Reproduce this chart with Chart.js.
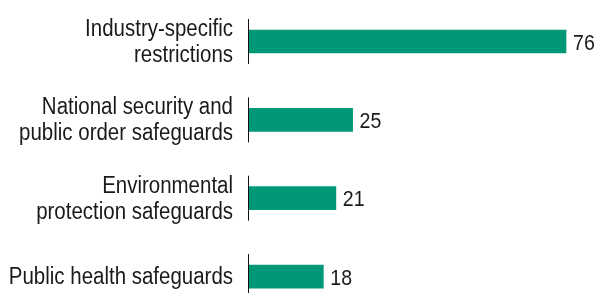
<!DOCTYPE html>
<html>
<head>
<meta charset="utf-8">
<script src="https://cdn.jsdelivr.net/npm/chart.js@4"></script>
<style>
  html, body { margin: 0; padding: 0; background: #fff; overflow: hidden; }
  #box { position: relative; width: 595px; height: 293px; }
</style>
</head>
<body>
<div id="box"><canvas id="chart"></canvas></div>
<script>
const categories = [
    ['Industry-specific', 'restrictions'],
    ['National security and', 'public order safeguards'],
    ['Environmental', 'protection safeguards'],
    ['Public health safeguards']
];
const values = [76, 25, 21, 18];

const FONT = "'Liberation Sans', Arial, sans-serif";
const SQUEEZE = 0.89;   // fake a condensed face
const TEXT = '#1a1a1a';

function narrowText(ctx, str, x, y, align) {
    ctx.save();
    ctx.translate(x, y);
    ctx.scale(SQUEEZE, 1);
    ctx.textAlign = align;
    ctx.fillText(str, 0, 0);
    ctx.restore();
}

// category names, right aligned against the axis
const catLabels = {
    id: 'catLabels',
    afterDraw: function (chart) {
        const { ctx, scales } = chart;
        const right = scales.x.getPixelForValue(0) - 15;
        const lineH = 26;
        ctx.save();
        ctx.font = '23px ' + FONT;
        ctx.fillStyle = TEXT;
        ctx.textBaseline = 'middle';
        categories.forEach(function (lines, i) {
            const mid = scales.y.getPixelForValue(i);
            const top = mid - (lines.length - 1) * lineH / 2;
            lines.forEach(function (line, j) {
                narrowText(ctx, line, right, top + j * lineH + 1, 'right');
            });
        });
        ctx.restore();
    }
};

// short vertical axis piece next to each bar
const axisPieces = {
    id: 'axisPieces',
    afterDatasetsDraw: function (chart) {
        const { ctx, scales } = chart;
        const x = Math.round(scales.x.getPixelForValue(0)) + 0.5;
        ctx.save();
        ctx.strokeStyle = '#111';
        ctx.lineWidth = 1;
        for (let i = 0; i < values.length; i++) {
            const y = scales.y.getPixelForValue(i);
            ctx.beginPath();
            ctx.moveTo(x, y - 22.5);
            ctx.lineTo(x, y + 22.5);
            ctx.stroke();
        }
        ctx.restore();
    }
};

const valueLabels = {
    id: 'valueLabels',
    afterDatasetsDraw: function (chart) {
        const { ctx } = chart;
        const meta = chart.getDatasetMeta(0);
        ctx.save();
        ctx.font = '22px ' + FONT;
        ctx.fillStyle = TEXT;
        ctx.textBaseline = 'middle';
        meta.data.forEach(function (bar, i) {
            narrowText(ctx, String(values[i]), bar.x + 7, bar.y + 2, 'left');
        });
        ctx.restore();
    }
};

const ctx = document.getElementById('chart').getContext('2d');
const myChart = new Chart(ctx, {
    type: 'bar',
    data: {
        datasets: [{
            data: values.map((v, i) => ({ x: v, y: i })),
            backgroundColor: '#009876',
            borderWidth: 0,
            barThickness: 23
        }]
    },
    options: {
        indexAxis: 'y',
        responsive: true,
        maintainAspectRatio: false,
        animation: false,
        layout: {
            padding: { top: 2.3, bottom: 0, left: 0, right: 11 }
        },
        scales: {
            x: {
                display: false,
                min: 0,
                max: 80.3
            },
            y: {
                type: 'linear',
                reverse: true,
                offset: false,
                // the last category runs past the bottom edge in the original
                min: -0.5,
                max: 3.21,
                afterFit: function (scale) {
                    scale.width = 248;
                    scale.paddingTop = 0;
                    scale.paddingBottom = 0;
                },
                border: { display: false },
                grid: { display: false, drawTicks: false },
                ticks: { display: false }
            }
        },
        plugins: {
            legend: { display: false },
            tooltip: { enabled: false }
        }
    },
    plugins: [axisPieces, valueLabels, catLabels]
});
</script>
</body>
</html>
